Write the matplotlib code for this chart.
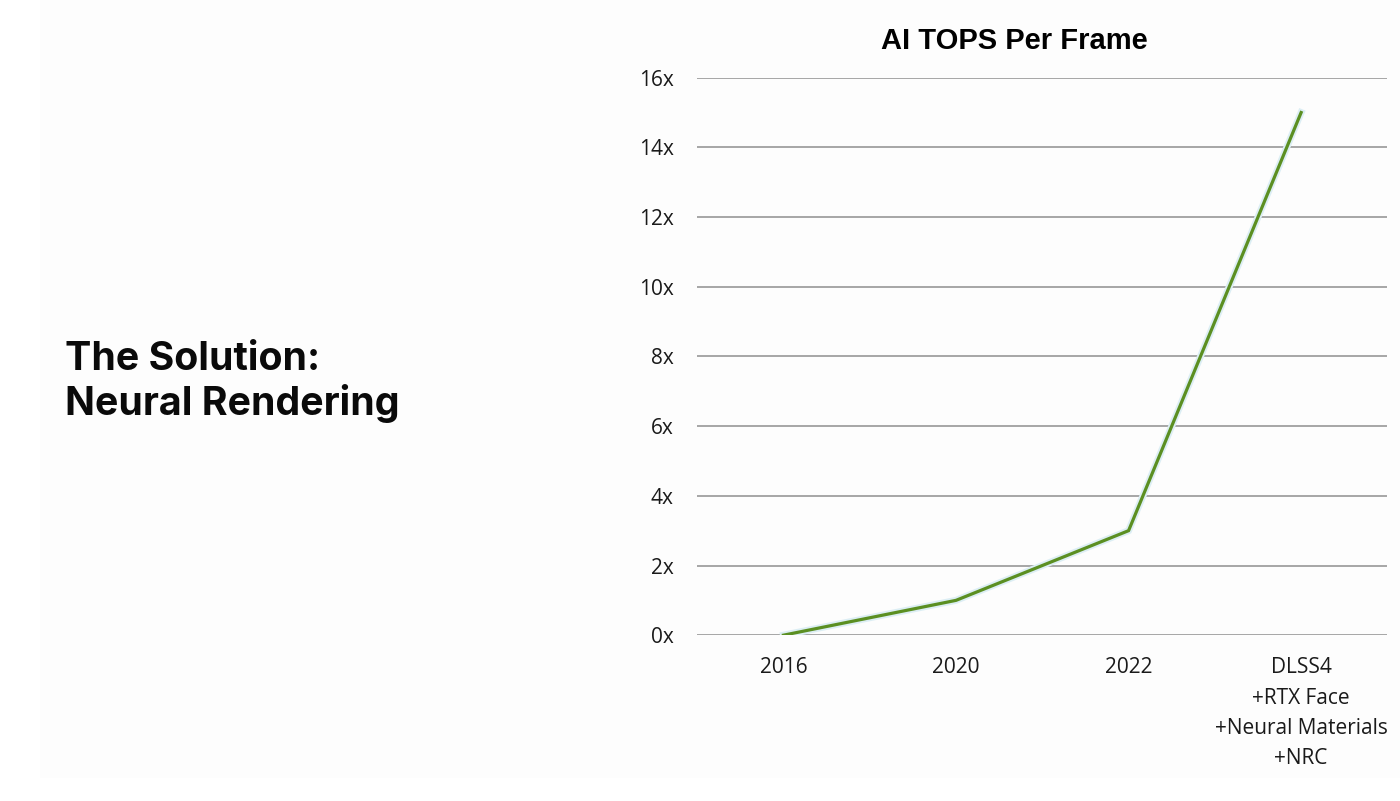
import matplotlib.pyplot as plt
import matplotlib.patches as mpatches
import matplotlib.patheffects as pe

# Datos del gráfico
categorias = ['2016', '2020', '2022', 'DLSS4\n+RTX Face\n+Neural Materials\n+NRC']
tops_por_frame = [0, 1, 3, 15]
yticks = [0, 2, 4, 6, 8, 10, 12, 14, 16]
ytick_labels = [f'{v}x' for v in yticks]

plt.rcParams['font.family'] = ['Open Sans', 'DejaVu Sans']

fig = plt.figure(figsize=(14, 8.01), dpi=100, facecolor='white')

# Fondo ligeramente gris del slide
fig.patches.append(mpatches.Rectangle((40 / 1400, 23 / 801), 1360 / 1400, 778 / 801,
                                      transform=fig.transFigure, facecolor='#fdfdfd',
                                      edgecolor='none', zorder=-10))

ax = fig.add_axes([0.498, 0.207, 0.493, 0.696])
ax.set_zorder(5)
ax.set_facecolor('none')

x = list(range(len(categorias)))
ax.plot(x, tops_por_frame, color='#5b8f22', linewidth=2.3, solid_joinstyle='miter', zorder=3,
        path_effects=[pe.Stroke(linewidth=5, foreground='#dceef4'), pe.Normal()])

ax.set_xlim(-0.5, len(categorias) - 0.5)
ax.set_ylim(0, 16)
ax.set_yticks(yticks)
ax.set_yticklabels(ytick_labels)
ax.set_xticks(x)
ax.set_xticklabels(categorias, linespacing=1.58, va='top')

ax.yaxis.grid(True, color='#a6a6a6', linewidth=1.4)
ax.set_axisbelow(True)
for s in ax.spines.values():
    s.set_visible(False)
ax.tick_params(axis='both', length=0, labelsize=15, colors='#1a1a1a')
ax.tick_params(axis='y', pad=17)
ax.tick_params(axis='x', pad=16)

# Título del gráfico
fig.text(1014 / 1400, 1 - 41 / 801, 'AI TOPS Per Frame', fontsize=21, fontweight='bold',
         family=['Liberation Sans', 'DejaVu Sans'], ha='center', va='center', zorder=6)

fig.text(65 / 1400, 1 - 382 / 801, 'The Solution:\nNeural Rendering', fontsize=28.3,
         fontweight='bold', family=['Inter', 'DejaVu Sans'], va='center', ha='left',
         linespacing=1.2, color='#0a0a0a', zorder=6)

plt.savefig('out.png', dpi=100, facecolor='white')
